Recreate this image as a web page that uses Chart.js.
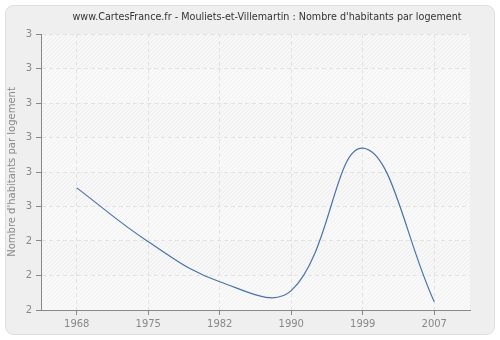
<!DOCTYPE html>
<html>
<head>
<meta charset="utf-8">
<script src="https://cdn.jsdelivr.net/npm/chart.js@4"></script>
<style>
  html, body { margin: 0; padding: 0; background: #fff; }
  #wrap { width: 500px; height: 340px; }
</style>
</head>
<body>
<div id="wrap"><canvas id="habChart" width="500" height="340"></canvas></div>
<script>
// chart data
const years = ["1968", "1975", "1982", "1990", "1999", "2007"];
const habitantsParLogement = [2.554, 2.398, 2.282, 2.256, 2.669, 2.224];
const yMin = 2.2;
const yMax = 3.0;
const yStep = 0.1;
const titleText = "www.CartesFrance.fr - Mouliets-et-Villemartin : Nombre d'habitants par logement";
const yTitle = "Nombre d'habitants par logement";

// panel background + hatched plot area
const backgroundPlugin = {
  id: "panelBg",
  beforeDraw(chart) {
    const ctx = chart.ctx;
    const area = chart.chartArea;
    ctx.save();
    // outer rounded panel
    ctx.fillStyle = "#efefef";
    ctx.strokeStyle = "#dedede";
    ctx.lineWidth = 1;
    ctx.beginPath();
    ctx.roundRect(5.5, 5.5, 489, 329, 8);
    ctx.fill();
    ctx.stroke();

    // plot area base
    ctx.fillStyle = "#f9f9f9";
    ctx.fillRect(area.left, area.top, area.right - area.left, area.bottom - area.top);

    // hatching on alternating bands
    const yScale = chart.scales.y;
    const ticks = yScale.ticks;
    for (let i = ticks.length - 1; i > 0; i--) {
      const bandIdx = ticks.length - 1 - i;
      const top = yScale.getPixelForValue(ticks[i].value);
      const bottom = yScale.getPixelForValue(ticks[i - 1].value);
      ctx.save();
      ctx.beginPath();
      ctx.rect(area.left, top, area.right - area.left, bottom - top);
      ctx.clip();
      ctx.strokeStyle = bandIdx % 2 === 0 ? "#e9e9e9" : "#f1f1f1";
      ctx.lineWidth = 1;
      ctx.beginPath();
      for (let x = area.left - 400; x < area.right + 400; x += 4) {
        ctx.moveTo(x, bottom);
        ctx.lineTo(x + (bottom - top), top);
      }
      ctx.stroke();
      ctx.restore();
    }

    // title
    ctx.fillStyle = "#333";
    ctx.font = "9.6px 'DejaVu Sans'";
    ctx.textAlign = "center";
    ctx.textBaseline = "middle";
    ctx.fillText(titleText, 267, 17);
    ctx.restore();
  }
};

const ctx = document.getElementById("habChart").getContext("2d");
new Chart(ctx, {
  type: "line",
  data: {
    labels: years,
    datasets: [
      {
        label: "Nombre d'habitants par logement",
        data: habitantsParLogement,
        borderColor: "#4a72aa",
        borderWidth: 1.2,
        pointRadius: 0,
        fill: false,
        tension: 0.4,
      },
    ],
  },
  options: {
    responsive: false,
    animation: false,
    layout: { padding: { left: 6, right: 30, top: 34, bottom: 8 } },
    plugins: {
      legend: { display: false },
      tooltip: { enabled: false },
    },
    scales: {
      x: {
        offset: true,
        grid: {
          offset: false,
          color: "#e2e2e2",
          tickColor: "#888",
          tickLength: 5,
          tickBorderDash: [],
        },
        border: { color: "#888", width: 1, dash: [4, 3] },
        ticks: {
          color: "#888",
          font: { family: "DejaVu Sans", size: 10 },
          padding: 3,
          maxRotation: 0,
        },
        afterFit(scale) { scale.height = 22; },
      },
      y: {
        min: yMin,
        max: yMax,
        grid: {
          color: "#e2e2e2",
          tickColor: "#888",
          tickLength: 5,
          tickBorderDash: [],
        },
        border: { color: "#888", width: 1, dash: [4, 3] },
        ticks: {
          stepSize: yStep,
          color: "#888",
          font: { family: "DejaVu Sans", size: 10 },
          padding: 4,
          callback: (v) => Math.round(v),
        },
        title: {
          display: true,
          text: yTitle,
          color: "#888",
          font: { family: "DejaVu Sans", size: 10 },
          padding: { top: 0, bottom: 2 },
        },
        afterFit(scale) { scale.width = 35; },
      },
    },
  },
  plugins: [backgroundPlugin],
});
</script>
</body>
</html>
